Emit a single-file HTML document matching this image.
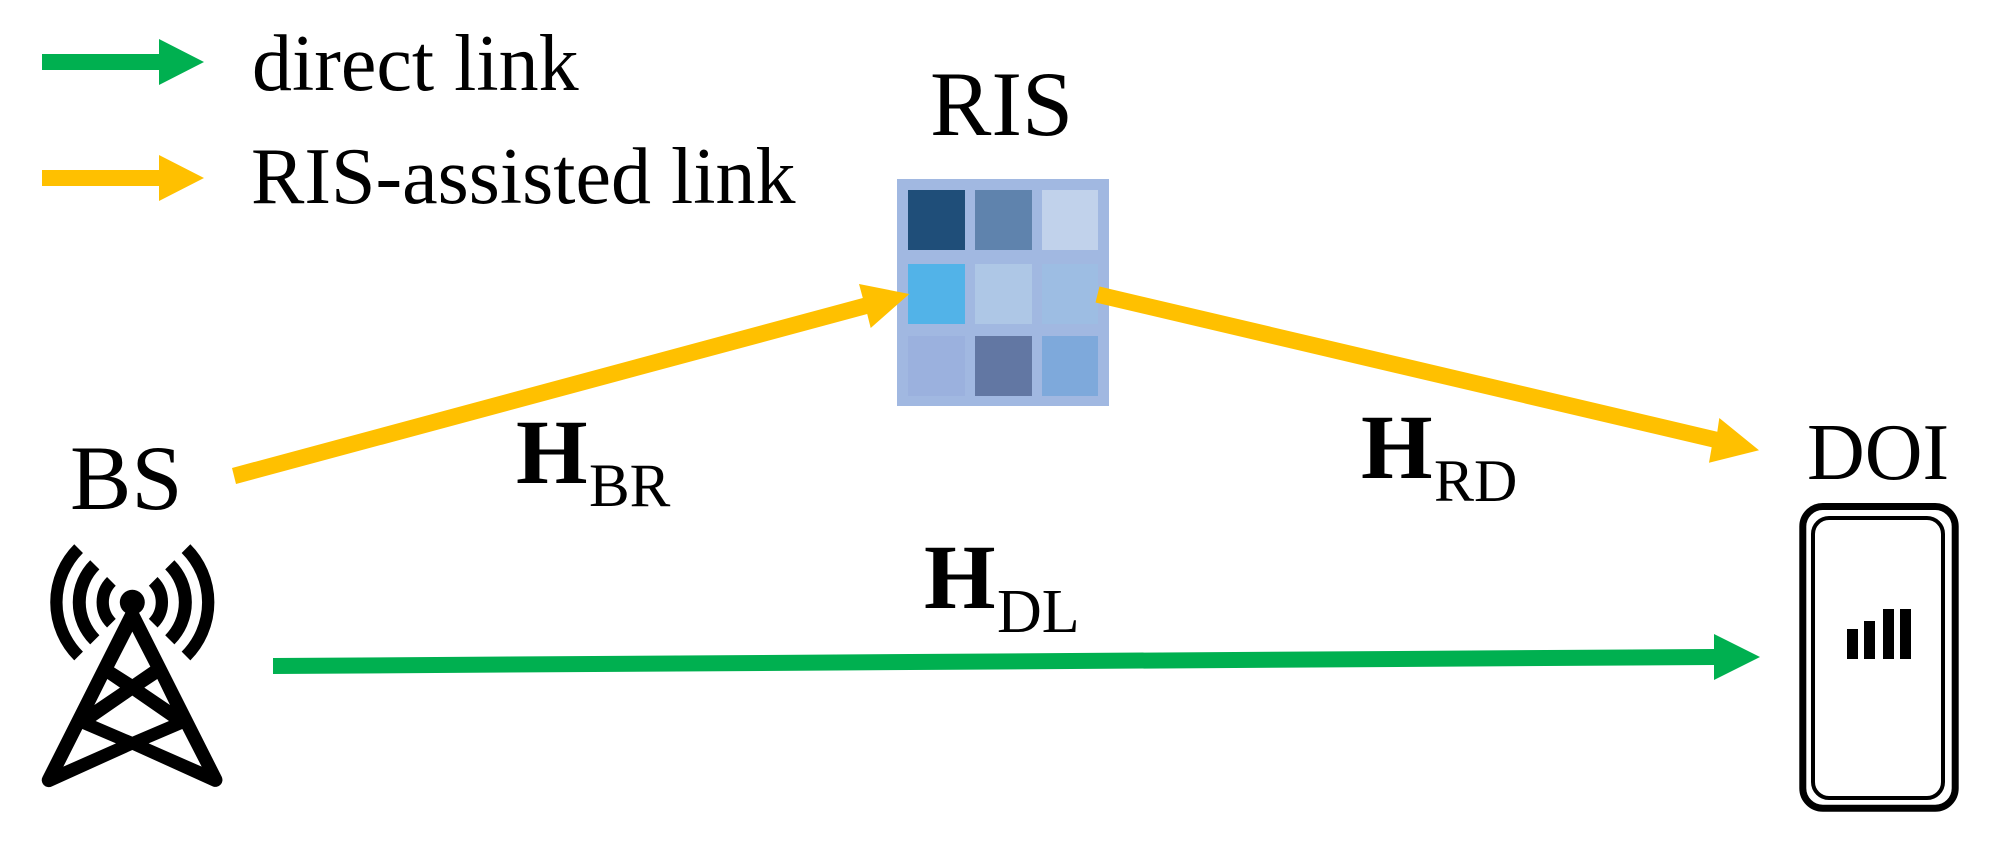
<!DOCTYPE html>
<html>
<head>
<meta charset="utf-8">
<style>
html,body{margin:0;padding:0;background:#fff;width:2004px;height:855px;overflow:hidden}
svg{display:block}
text{font-family:"Liberation Serif",serif;fill:#000}
</style>
</head>
<body>
<svg width="2004" height="855" viewBox="0 0 2004 855" xmlns="http://www.w3.org/2000/svg">
<rect width="2004" height="855" fill="#fff"/>
<!-- legend -->
<polygon points="42,54 159,54 159,39 204,62 159,85 159,70 42,70" fill="#00B050"/>
<polygon points="42,170 159,170 159,155 204,178 159,201 159,186 42,186" fill="#FFC000"/>
<text x="252" y="90" font-size="80">direct link</text>
<text x="251" y="203" font-size="80">RIS-assisted link</text>
<!-- RIS -->
<text x="930" y="135" font-size="92">RIS</text>
<rect x="897" y="179" width="212" height="227" fill="#A1B8E1"/>
<rect x="908" y="190" width="57" height="60" fill="#1F4E79"/>
<rect x="975" y="190" width="57" height="60" fill="#5F83AD"/>
<rect x="1042" y="190" width="56" height="60" fill="#C1D2EB"/>
<rect x="908" y="264" width="57" height="60" fill="#52B3E8"/>
<rect x="975" y="264" width="57" height="60" fill="#AEC7E6"/>
<rect x="1042" y="264" width="56" height="60" fill="#9DBDE3"/>
<rect x="908" y="336" width="57" height="60" fill="#9BB1DE"/>
<rect x="975" y="336" width="57" height="60" fill="#6277A3"/>
<rect x="1042" y="336" width="56" height="60" fill="#7EA9DB"/>
<!-- arrows -->
<polygon points="232,468 862.8,298 859,284 909.3,294 870.7,328 867.2,314 236,484" fill="#FFC000"/>
<polygon points="1099.5,286.5 1717.3,431.7 1719.3,418 1759,450.3 1709,462.7 1711.7,447.3 1095.5,302.5" fill="#FFC000"/>
<polygon points="273,658 1714,649 1714,634 1760,657 1714,680 1714,665 273,674" fill="#00B050"/>
<!-- BS -->
<text x="70" y="509" font-size="92">BS</text>
<g fill="none" stroke="#000">
<path d="M78.6,548.6 A76,76 0 0 0 78.6,656 M186,548.6 A76,76 0 0 1 186,656" stroke-width="12.3"/>
<path d="M94.8,564.8 A53,53 0 0 0 94.8,639.8 M169.8,564.8 A53,53 0 0 1 169.8,639.8" stroke-width="13"/>
<path d="M111.4,581.4 A29.5,29.5 0 0 0 111.4,623.2 M153.2,581.4 A29.5,29.5 0 0 1 153.2,623.2" stroke-width="12.3"/>
</g>
<circle cx="132.3" cy="602.3" r="12.5" fill="#000"/>
<g transform="translate(30,530) scale(0.33333)">
<path fill="#000" fill-rule="evenodd" d="M290,240 L323,240 L575,740 A21,21 0 0 1 548,769 L307,660 L66,769 A21,21 0 0 1 38,740 Z
M307,305 L361,410 L307,447 L252,412 Z
M232,447 L270,473 L193,525 Z
M382,447 L343,473 L420,525 Z
M307,497 L417,573 L307,620 L197,573 Z
M157,597 L258,640 L100,710 Z
M457,597 L356,640 L515,710 Z"/>
</g>
<!-- DOI -->
<text x="1807" y="479" font-size="80">DOI</text>
<rect x="1802.8" y="506.5" width="152.4" height="301.7" rx="20" ry="20" fill="none" stroke="#000" stroke-width="7"/>
<rect x="1813" y="518" width="130" height="280" rx="16" ry="16" fill="none" stroke="#000" stroke-width="4"/>
<rect x="1847" y="629" width="11" height="30" fill="#000"/>
<rect x="1864" y="621" width="11" height="38" fill="#000"/>
<rect x="1883" y="609" width="11" height="50" fill="#000"/>
<rect x="1900" y="609" width="11" height="50" fill="#000"/>
<!-- channel labels -->
<text x="516" y="483" font-size="92" font-weight="bold">H</text>
<text x="589" y="506" font-size="61">BR</text>
<text x="1361" y="478" font-size="92" font-weight="bold">H</text>
<text x="1434" y="501" font-size="60">RD</text>
<text x="924" y="608" font-size="92" font-weight="bold">H</text>
<text x="997" y="632" font-size="62">DL</text>
</svg>
</body>
</html>
